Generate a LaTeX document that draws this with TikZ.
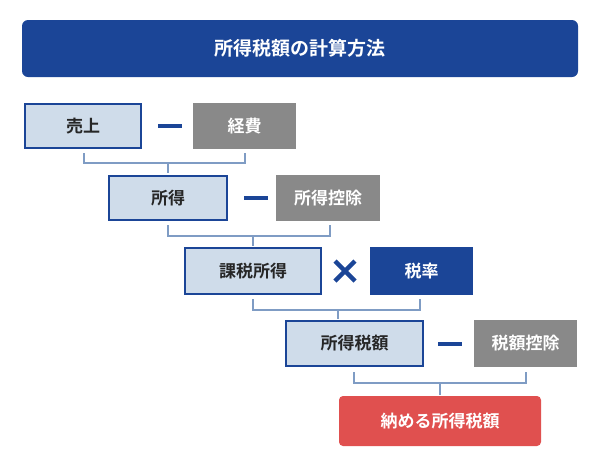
\documentclass[tikz,border=0pt]{standalone}
\usepackage{fontspec}
\setmainfont{Noto Sans CJK JP}[BoldFont={Noto Sans CJK JP Bold}]
\begin{document}
\begin{tikzpicture}[x=1pt,y=-1pt,
  lb/.style={draw=navy,line width=2.2pt,fill=lightb,font=\bfseries\fontsize{17}{17}\selectfont,text=black!85},
  gb/.style={fill=greyb,font=\bfseries\fontsize{17}{17}\selectfont,text=white},
  br/.style={draw=brk,line width=1.6pt}]
\definecolor{navy}{HTML}{1B4597}
\definecolor{lightb}{HTML}{CFDCEA}
\definecolor{greyb}{HTML}{898989}
\definecolor{brk}{HTML}{7F9CC4}
\definecolor{redb}{HTML}{E0504F}
\useasboundingbox (0,0) rectangle (600,467);
\node[fill=navy,rounded corners=6pt,minimum width=556pt,minimum height=57pt,text=white,font=\bfseries\fontsize{19}{19}\selectfont] (t) at (300,48.5) {所得税額の計算方法};
% row1
\node[lb,minimum width=116pt,minimum height=44pt] (a1) at (83,126) {売上};
\node[gb,minimum width=103pt,minimum height=46pt] (b1) at (244.5,126) {経費};
% row2
\node[lb,minimum width=118pt,minimum height=44pt] (a2) at (168,198) {所得};
\node[gb,minimum width=104pt,minimum height=46pt] (b2) at (328,198) {所得控除};
% row3
\node[lb,minimum width=136pt,minimum height=46pt] (a3) at (253,271) {課税所得};
\node[fill=navy,text=white,font=\bfseries\fontsize{17}{17}\selectfont,minimum width=103pt,minimum height=48pt] (b3) at (421.5,271) {税率};
% row4
\node[lb,minimum width=137pt,minimum height=45pt] (a4) at (354.5,343.5) {所得税額};
\node[gb,minimum width=103pt,minimum height=47pt] (b4) at (525.5,343.5) {税額控除};
% final
\node[fill=redb,rounded corners=4pt,text=white,font=\bfseries\fontsize{17}{17}\selectfont,minimum width=202pt,minimum height=50pt] (f) at (440,421) {納める所得税額};
% operators
\draw[navy,line width=4pt] (158,126) -- (182,126);
\draw[navy,line width=4pt] (244,198) -- (268,198);
\draw[navy,line width=4.5pt] (335,261) -- (355,281) (355,261) -- (335,281);
\draw[navy,line width=4pt] (438,343.5) -- (462,343.5);
% brackets
\draw[br] (84,153) -- (84,163) -- (245,163) -- (245,153) (168,163) -- (168,173);
\draw[br] (168,225) -- (168,236) -- (330,236) -- (330,225) (253,236) -- (253,246);
\draw[br] (253,299) -- (253,310) -- (420,310) -- (420,299) (338,310) -- (338,319);
\draw[br] (354,372) -- (354,383) -- (526,383) -- (526,372) (440,383) -- (440,395);
\end{tikzpicture}
\end{document}
